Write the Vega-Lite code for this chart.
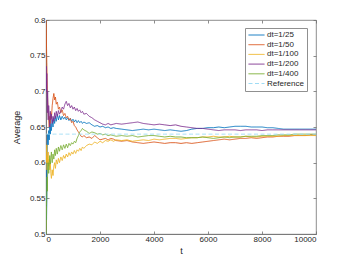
{
  "$schema": "https://vega.github.io/schema/vega-lite/v6.json",
  "width": 270,
  "height": 214,
  "autosize": {"type": "none"},
  "padding": {"left": 46, "top": 20, "right": 34, "bottom": 30},
  "background": "white",
  "config": {
    "view": {"stroke": "#707070", "strokeWidth": 0.8},
    "font": "Liberation Sans",
    "axis": {
      "grid": false,
      "domainColor": "#707070",
      "domainWidth": 0.8,
      "tickColor": "#707070",
      "tickWidth": 0.8,
      "tickSize": -3,
      "labelColor": "#262626",
      "labelFontSize": 8,
      "labelFont": "Liberation Sans",
      "titleColor": "#262626",
      "titleFontSize": 9,
      "titleFontWeight": "normal",
      "titleFont": "Liberation Sans"
    },
    "legend": {
      "orient": "none",
      "legendX": 199,
      "legendY": 8,
      "strokeColor": "#909090",
      "fillColor": "white",
      "padding": 3,
      "symbolType": "stroke",
      "symbolSize": 256,
      "symbolStrokeWidth": 1,
      "labelFontSize": 8,
      "labelFont": "Liberation Sans",
      "labelColor": "#262626",
      "labelOffset": 2,
      "clipHeight": 8,
      "rowPadding": 1.7,
      "title": null
    }
  },
  "resolve": {"axis": {"x": "independent", "y": "independent"}},
  "layer": [
    {
      "data": {
        "values": [
          {"t":0,"dt=1/25":0.600,"dt=1/50":0.800,"dt=1/100":0.620,"dt=1/200":0.730,"dt=1/400":0.500,"Reference":0.64},
          {"t":10,"dt=1/25":0.560,"dt=1/50":0.790,"dt=1/100":0.615,"dt=1/200":0.735,"dt=1/400":0.510,"Reference":0.64},
          {"t":20,"dt=1/25":0.520,"dt=1/50":0.760,"dt=1/100":0.600,"dt=1/200":0.700,"dt=1/400":0.540,"Reference":0.64},
          {"t":30,"dt=1/25":0.550,"dt=1/50":0.740,"dt=1/100":0.625,"dt=1/200":0.725,"dt=1/400":0.560,"Reference":0.64},
          {"t":40,"dt=1/25":0.600,"dt=1/50":0.720,"dt=1/100":0.590,"dt=1/200":0.690,"dt=1/400":0.580,"Reference":0.64},
          {"t":50,"dt=1/25":0.625,"dt=1/50":0.700,"dt=1/100":0.610,"dt=1/200":0.670,"dt=1/400":0.560,"Reference":0.64},
          {"t":60,"dt=1/25":0.640,"dt=1/50":0.690,"dt=1/100":0.600,"dt=1/200":0.700,"dt=1/400":0.590,"Reference":0.64},
          {"t":80,"dt=1/25":0.625,"dt=1/50":0.670,"dt=1/100":0.615,"dt=1/200":0.660,"dt=1/400":0.600,"Reference":0.64},
          {"t":100,"dt=1/25":0.645,"dt=1/50":0.660,"dt=1/100":0.595,"dt=1/200":0.680,"dt=1/400":0.585,"Reference":0.64},
          {"t":120,"dt=1/25":0.632,"dt=1/50":0.650,"dt=1/100":0.605,"dt=1/200":0.665,"dt=1/400":0.600,"Reference":0.64},
          {"t":140,"dt=1/25":0.650,"dt=1/50":0.665,"dt=1/100":0.590,"dt=1/200":0.650,"dt=1/400":0.610,"Reference":0.64},
          {"t":160,"dt=1/25":0.640,"dt=1/50":0.655,"dt=1/100":0.600,"dt=1/200":0.672,"dt=1/400":0.598,"Reference":0.64},
          {"t":180,"dt=1/25":0.655,"dt=1/50":0.670,"dt=1/100":0.585,"dt=1/200":0.660,"dt=1/400":0.605,"Reference":0.64},
          {"t":200,"dt=1/25":0.645,"dt=1/50":0.662,"dt=1/100":0.578,"dt=1/200":0.668,"dt=1/400":0.615,"Reference":0.64},
          {"t":230,"dt=1/25":0.660,"dt=1/50":0.680,"dt=1/100":0.590,"dt=1/200":0.655,"dt=1/400":0.600,"Reference":0.64},
          {"t":260,"dt=1/25":0.650,"dt=1/50":0.690,"dt=1/100":0.582,"dt=1/200":0.665,"dt=1/400":0.612,"Reference":0.64},
          {"t":290,"dt=1/25":0.663,"dt=1/50":0.697,"dt=1/100":0.595,"dt=1/200":0.658,"dt=1/400":0.605,"Reference":0.64},
          {"t":320,"dt=1/25":0.655,"dt=1/50":0.688,"dt=1/100":0.600,"dt=1/200":0.670,"dt=1/400":0.618,"Reference":0.64},
          {"t":350,"dt=1/25":0.665,"dt=1/50":0.692,"dt=1/100":0.592,"dt=1/200":0.662,"dt=1/400":0.610,"Reference":0.64},
          {"t":380,"dt=1/25":0.658,"dt=1/50":0.682,"dt=1/100":0.604,"dt=1/200":0.672,"dt=1/400":0.620,"Reference":0.64},
          {"t":420,"dt=1/25":0.668,"dt=1/50":0.685,"dt=1/100":0.598,"dt=1/200":0.665,"dt=1/400":0.612,"Reference":0.64},
          {"t":460,"dt=1/25":0.660,"dt=1/50":0.675,"dt=1/100":0.606,"dt=1/200":0.673,"dt=1/400":0.622,"Reference":0.64},
          {"t":500,"dt=1/25":0.666,"dt=1/50":0.678,"dt=1/100":0.600,"dt=1/200":0.668,"dt=1/400":0.616,"Reference":0.64},
          {"t":550,"dt=1/25":0.660,"dt=1/50":0.670,"dt=1/100":0.608,"dt=1/200":0.672,"dt=1/400":0.624,"Reference":0.64},
          {"t":600,"dt=1/25":0.665,"dt=1/50":0.674,"dt=1/100":0.603,"dt=1/200":0.678,"dt=1/400":0.618,"Reference":0.64},
          {"t":650,"dt=1/25":0.661,"dt=1/50":0.666,"dt=1/100":0.610,"dt=1/200":0.675,"dt=1/400":0.625,"Reference":0.64},
          {"t":700,"dt=1/25":0.664,"dt=1/50":0.669,"dt=1/100":0.606,"dt=1/200":0.682,"dt=1/400":0.620,"Reference":0.64},
          {"t":750,"dt=1/25":0.660,"dt=1/50":0.663,"dt=1/100":0.612,"dt=1/200":0.686,"dt=1/400":0.626,"Reference":0.64},
          {"t":800,"dt=1/25":0.663,"dt=1/50":0.665,"dt=1/100":0.608,"dt=1/200":0.680,"dt=1/400":0.621,"Reference":0.64},
          {"t":850,"dt=1/25":0.659,"dt=1/50":0.660,"dt=1/100":0.614,"dt=1/200":0.683,"dt=1/400":0.627,"Reference":0.64},
          {"t":900,"dt=1/25":0.662,"dt=1/50":0.662,"dt=1/100":0.610,"dt=1/200":0.677,"dt=1/400":0.624,"Reference":0.64},
          {"t":950,"dt=1/25":0.658,"dt=1/50":0.656,"dt=1/100":0.615,"dt=1/200":0.680,"dt=1/400":0.628,"Reference":0.64},
          {"t":1000,"dt=1/25":0.661,"dt=1/50":0.658,"dt=1/100":0.612,"dt=1/200":0.675,"dt=1/400":0.626,"Reference":0.64},
          {"t":1050,"dt=1/25":0.657,"dt=1/50":0.652,"dt=1/100":0.617,"dt=1/200":0.678,"dt=1/400":0.630,"Reference":0.64},
          {"t":1100,"dt=1/25":0.660,"dt=1/50":0.650,"dt=1/100":0.613,"dt=1/200":0.673,"dt=1/400":0.628,"Reference":0.64},
          {"t":1150,"dt=1/25":0.656,"dt=1/50":0.646,"dt=1/100":0.618,"dt=1/200":0.676,"dt=1/400":0.634,"Reference":0.64},
          {"t":1200,"dt=1/25":0.659,"dt=1/50":0.643,"dt=1/100":0.616,"dt=1/200":0.672,"dt=1/400":0.638,"Reference":0.64},
          {"t":1250,"dt=1/25":0.656,"dt=1/50":0.640,"dt=1/100":0.620,"dt=1/200":0.674,"dt=1/400":0.643,"Reference":0.64},
          {"t":1300,"dt=1/25":0.658,"dt=1/50":0.637,"dt=1/100":0.617,"dt=1/200":0.670,"dt=1/400":0.645,"Reference":0.64},
          {"t":1350,"dt=1/25":0.655,"dt=1/50":0.636,"dt=1/100":0.622,"dt=1/200":0.672,"dt=1/400":0.648,"Reference":0.64},
          {"t":1400,"dt=1/25":0.657,"dt=1/50":0.638,"dt=1/100":0.620,"dt=1/200":0.668,"dt=1/400":0.646,"Reference":0.64},
          {"t":1500,"dt=1/25":0.655,"dt=1/50":0.635,"dt=1/100":0.624,"dt=1/200":0.669,"dt=1/400":0.644,"Reference":0.64},
          {"t":1600,"dt=1/25":0.656,"dt=1/50":0.636,"dt=1/100":0.626,"dt=1/200":0.665,"dt=1/400":0.641,"Reference":0.64},
          {"t":1700,"dt=1/25":0.653,"dt=1/50":0.634,"dt=1/100":0.625,"dt=1/200":0.663,"dt=1/400":0.643,"Reference":0.64},
          {"t":1800,"dt=1/25":0.651,"dt=1/50":0.638,"dt=1/100":0.629,"dt=1/200":0.660,"dt=1/400":0.642,"Reference":0.64},
          {"t":1900,"dt=1/25":0.652,"dt=1/50":0.635,"dt=1/100":0.627,"dt=1/200":0.658,"dt=1/400":0.640,"Reference":0.64},
          {"t":2000,"dt=1/25":0.650,"dt=1/50":0.632,"dt=1/100":0.630,"dt=1/200":0.656,"dt=1/400":0.641,"Reference":0.64},
          {"t":2100,"dt=1/25":0.651,"dt=1/50":0.633,"dt=1/100":0.628,"dt=1/200":0.654,"dt=1/400":0.639,"Reference":0.64},
          {"t":2200,"dt=1/25":0.649,"dt=1/50":0.634,"dt=1/100":0.631,"dt=1/200":0.653,"dt=1/400":0.640,"Reference":0.64},
          {"t":2300,"dt=1/25":0.650,"dt=1/50":0.632,"dt=1/100":0.630,"dt=1/200":0.655,"dt=1/400":0.638,"Reference":0.64},
          {"t":2400,"dt=1/25":0.648,"dt=1/50":0.634,"dt=1/100":0.632,"dt=1/200":0.653,"dt=1/400":0.639,"Reference":0.64},
          {"t":2500,"dt=1/25":0.649,"dt=1/50":0.633,"dt=1/100":0.630,"dt=1/200":0.654,"dt=1/400":0.638,"Reference":0.64},
          {"t":2600,"dt=1/25":0.648,"dt=1/50":0.631,"dt=1/100":0.632,"dt=1/200":0.655,"dt=1/400":0.637,"Reference":0.64},
          {"t":2800,"dt=1/25":0.647,"dt=1/50":0.630,"dt=1/100":0.631,"dt=1/200":0.654,"dt=1/400":0.638,"Reference":0.64},
          {"t":3000,"dt=1/25":0.646,"dt=1/50":0.631,"dt=1/100":0.632,"dt=1/200":0.655,"dt=1/400":0.637,"Reference":0.64},
          {"t":3200,"dt=1/25":0.645,"dt=1/50":0.629,"dt=1/100":0.630,"dt=1/200":0.656,"dt=1/400":0.638,"Reference":0.64},
          {"t":3400,"dt=1/25":0.646,"dt=1/50":0.628,"dt=1/100":0.631,"dt=1/200":0.657,"dt=1/400":0.636,"Reference":0.64},
          {"t":3600,"dt=1/25":0.647,"dt=1/50":0.627,"dt=1/100":0.632,"dt=1/200":0.655,"dt=1/400":0.637,"Reference":0.64},
          {"t":3800,"dt=1/25":0.646,"dt=1/50":0.628,"dt=1/100":0.631,"dt=1/200":0.654,"dt=1/400":0.638,"Reference":0.64},
          {"t":4000,"dt=1/25":0.647,"dt=1/50":0.629,"dt=1/100":0.633,"dt=1/200":0.653,"dt=1/400":0.638,"Reference":0.64},
          {"t":4200,"dt=1/25":0.646,"dt=1/50":0.628,"dt=1/100":0.632,"dt=1/200":0.654,"dt=1/400":0.637,"Reference":0.64},
          {"t":4400,"dt=1/25":0.645,"dt=1/50":0.627,"dt=1/100":0.633,"dt=1/200":0.653,"dt=1/400":0.636,"Reference":0.64},
          {"t":4600,"dt=1/25":0.646,"dt=1/50":0.628,"dt=1/100":0.634,"dt=1/200":0.652,"dt=1/400":0.637,"Reference":0.64},
          {"t":4800,"dt=1/25":0.645,"dt=1/50":0.628,"dt=1/100":0.634,"dt=1/200":0.653,"dt=1/400":0.636,"Reference":0.64},
          {"t":5000,"dt=1/25":0.644,"dt=1/50":0.627,"dt=1/100":0.633,"dt=1/200":0.651,"dt=1/400":0.636,"Reference":0.64},
          {"t":5200,"dt=1/25":0.645,"dt=1/50":0.628,"dt=1/100":0.634,"dt=1/200":0.650,"dt=1/400":0.635,"Reference":0.64},
          {"t":5400,"dt=1/25":0.647,"dt=1/50":0.627,"dt=1/100":0.635,"dt=1/200":0.649,"dt=1/400":0.635,"Reference":0.64},
          {"t":5600,"dt=1/25":0.648,"dt=1/50":0.628,"dt=1/100":0.635,"dt=1/200":0.648,"dt=1/400":0.635,"Reference":0.64},
          {"t":5800,"dt=1/25":0.648,"dt=1/50":0.629,"dt=1/100":0.636,"dt=1/200":0.648,"dt=1/400":0.636,"Reference":0.64},
          {"t":6000,"dt=1/25":0.649,"dt=1/50":0.630,"dt=1/100":0.636,"dt=1/200":0.647,"dt=1/400":0.635,"Reference":0.64},
          {"t":6200,"dt=1/25":0.649,"dt=1/50":0.631,"dt=1/100":0.637,"dt=1/200":0.646,"dt=1/400":0.634,"Reference":0.64},
          {"t":6400,"dt=1/25":0.650,"dt=1/50":0.632,"dt=1/100":0.636,"dt=1/200":0.645,"dt=1/400":0.635,"Reference":0.64},
          {"t":6600,"dt=1/25":0.649,"dt=1/50":0.633,"dt=1/100":0.636,"dt=1/200":0.646,"dt=1/400":0.636,"Reference":0.64},
          {"t":6800,"dt=1/25":0.650,"dt=1/50":0.632,"dt=1/100":0.637,"dt=1/200":0.646,"dt=1/400":0.635,"Reference":0.64},
          {"t":7000,"dt=1/25":0.651,"dt=1/50":0.633,"dt=1/100":0.636,"dt=1/200":0.646,"dt=1/400":0.636,"Reference":0.64},
          {"t":7200,"dt=1/25":0.651,"dt=1/50":0.634,"dt=1/100":0.636,"dt=1/200":0.645,"dt=1/400":0.636,"Reference":0.64},
          {"t":7400,"dt=1/25":0.651,"dt=1/50":0.634,"dt=1/100":0.637,"dt=1/200":0.646,"dt=1/400":0.637,"Reference":0.64},
          {"t":7600,"dt=1/25":0.650,"dt=1/50":0.635,"dt=1/100":0.636,"dt=1/200":0.646,"dt=1/400":0.637,"Reference":0.64},
          {"t":7800,"dt=1/25":0.650,"dt=1/50":0.634,"dt=1/100":0.636,"dt=1/200":0.646,"dt=1/400":0.637,"Reference":0.64},
          {"t":8000,"dt=1/25":0.650,"dt=1/50":0.635,"dt=1/100":0.637,"dt=1/200":0.645,"dt=1/400":0.638,"Reference":0.64},
          {"t":8200,"dt=1/25":0.649,"dt=1/50":0.636,"dt=1/100":0.637,"dt=1/200":0.646,"dt=1/400":0.638,"Reference":0.64},
          {"t":8400,"dt=1/25":0.649,"dt=1/50":0.636,"dt=1/100":0.637,"dt=1/200":0.646,"dt=1/400":0.638,"Reference":0.64},
          {"t":8600,"dt=1/25":0.648,"dt=1/50":0.637,"dt=1/100":0.637,"dt=1/200":0.646,"dt=1/400":0.639,"Reference":0.64},
          {"t":8800,"dt=1/25":0.647,"dt=1/50":0.637,"dt=1/100":0.638,"dt=1/200":0.646,"dt=1/400":0.639,"Reference":0.64},
          {"t":9000,"dt=1/25":0.647,"dt=1/50":0.637,"dt=1/100":0.638,"dt=1/200":0.646,"dt=1/400":0.639,"Reference":0.64},
          {"t":9200,"dt=1/25":0.647,"dt=1/50":0.638,"dt=1/100":0.638,"dt=1/200":0.646,"dt=1/400":0.640,"Reference":0.64},
          {"t":9400,"dt=1/25":0.647,"dt=1/50":0.638,"dt=1/100":0.638,"dt=1/200":0.646,"dt=1/400":0.640,"Reference":0.64},
          {"t":9600,"dt=1/25":0.647,"dt=1/50":0.638,"dt=1/100":0.638,"dt=1/200":0.646,"dt=1/400":0.640,"Reference":0.64},
          {"t":9800,"dt=1/25":0.647,"dt=1/50":0.639,"dt=1/100":0.638,"dt=1/200":0.646,"dt=1/400":0.640,"Reference":0.64},
          {"t":10000,"dt=1/25":0.647,"dt=1/50":0.639,"dt=1/100":0.638,"dt=1/200":0.646,"dt=1/400":0.640,"Reference":0.64}
        ]
      },
      "transform": [
        {"fold": ["dt=1/25", "dt=1/50", "dt=1/100", "dt=1/200", "dt=1/400", "Reference"], "as": ["series", "value"]}
      ],
      "mark": {"type": "line", "strokeWidth": 0.9, "clip": true},
      "encoding": {
        "x": {
          "field": "t", "type": "quantitative",
          "scale": {"domain": [0, 10000], "nice": false},
          "axis": {"title": "t", "orient": "bottom", "values": [0, 2000, 4000, 6000, 8000, 10000], "format": "d", "labelPadding": 4, "titlePadding": 3}
        },
        "y": {
          "field": "value", "type": "quantitative",
          "scale": {"domain": [0.5, 0.8], "nice": false, "zero": false},
          "axis": {"title": "Average", "orient": "left", "values": [0.5, 0.55, 0.6, 0.65, 0.7, 0.75, 0.8], "format": ".2~f", "labelPadding": 4, "titlePadding": 8}
        },
        "color": {
          "field": "series", "type": "nominal",
          "scale": {
            "domain": ["dt=1/25", "dt=1/50", "dt=1/100", "dt=1/200", "dt=1/400", "Reference"],
            "range": ["#0072BD", "#D95319", "#EDB120", "#7E2F8E", "#77AC30", "#9fdcf5"]
          }
        },
        "strokeDash": {
          "field": "series", "type": "nominal",
          "scale": {
            "domain": ["dt=1/25", "dt=1/50", "dt=1/100", "dt=1/200", "dt=1/400", "Reference"],
            "range": [[1, 0], [1, 0], [1, 0], [1, 0], [1, 0], [4, 2.5]]
          }
        },
        "order": {"field": "t", "type": "quantitative"}
      }
    },
    {
      "data": {"values": [{"t": 0, "value": 0.5}, {"t": 10000, "value": 0.8}]},
      "mark": {"type": "point", "opacity": 0},
      "encoding": {
        "x": {
          "field": "t", "type": "quantitative",
          "axis": {"orient": "top", "title": null, "labels": false, "domain": false, "values": [0, 2000, 4000, 6000, 8000, 10000]}
        },
        "y": {
          "field": "value", "type": "quantitative",
          "axis": {"orient": "right", "title": null, "labels": false, "domain": false, "values": [0.5, 0.55, 0.6, 0.65, 0.7, 0.75, 0.8]}
        }
      }
    }
  ]
}
